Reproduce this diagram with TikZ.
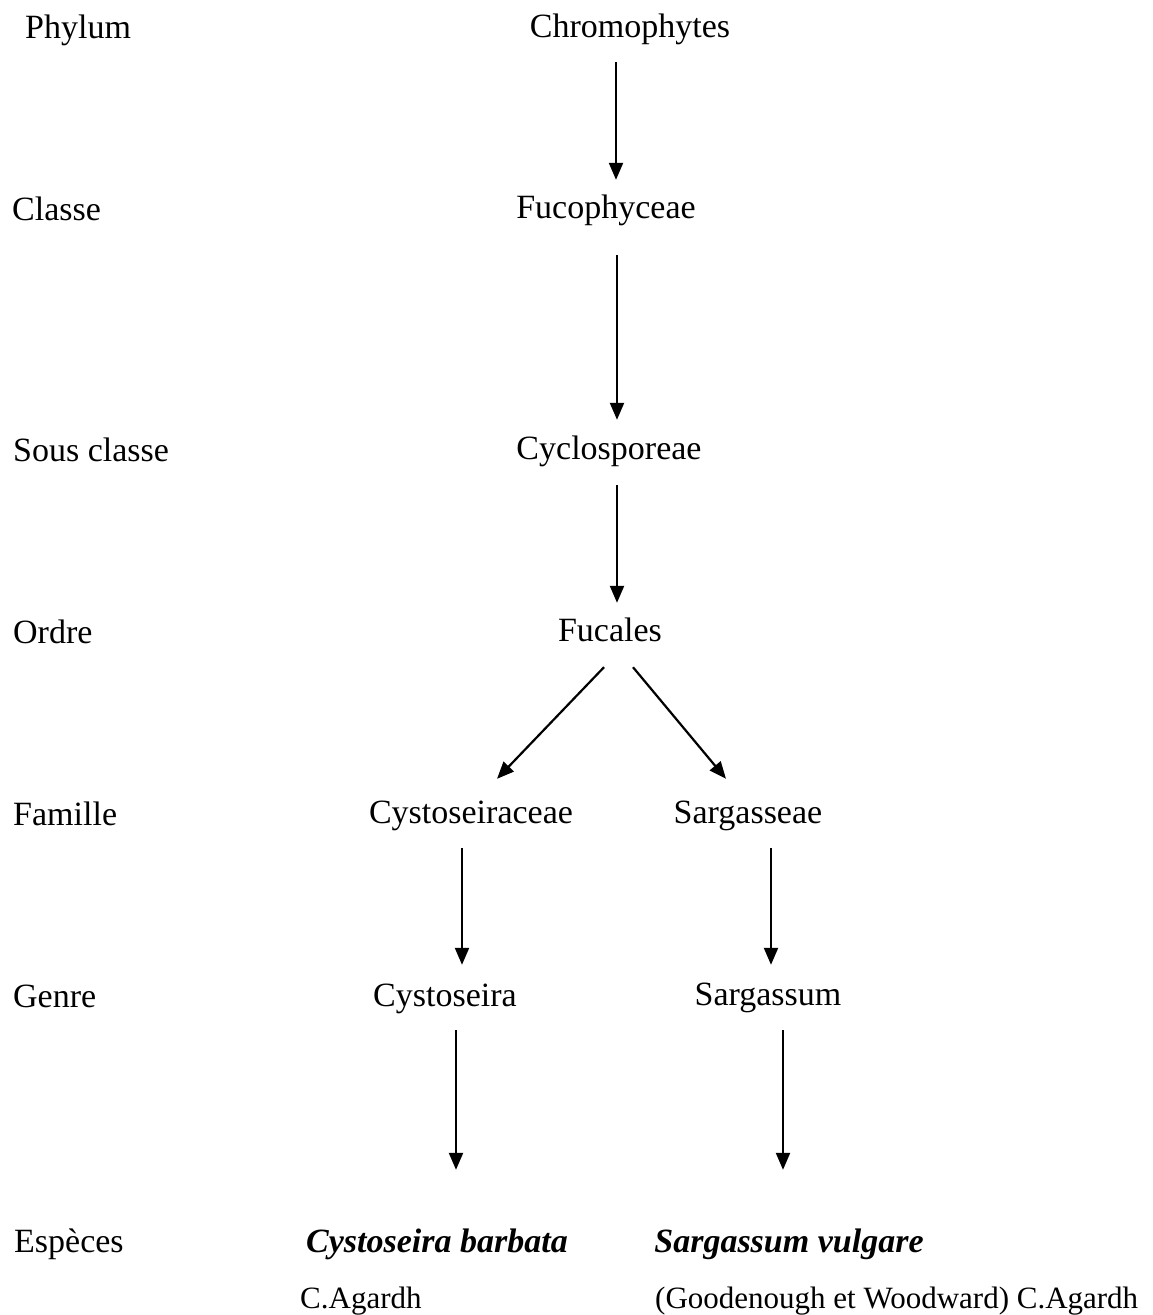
\documentclass[tikz,border=0pt]{standalone}
\usepackage{fontspec}
\setmainfont{Liberation Serif}
\usetikzlibrary{calc,arrows.meta}
\begin{document}
\begin{tikzpicture}[x=1pt,y=-1pt,
  lbl/.style={inner sep=0pt,text height=24pt,text depth=8pt,anchor=base west,font=\fontsize{34}{40}\selectfont},
  author/.style={lbl,font=\fontsize{31}{37}\selectfont},
  taxon/.style={inner sep=0pt,text height=24pt,text depth=8pt,anchor=base,font=\fontsize{34}{40}\selectfont},
  species/.style={taxon,font=\fontsize{34}{40}\selectfont\bfseries\itshape},
  arr/.style={line width=2.2pt,-{Triangle[width=14pt,length=17pt]}}]
\useasboundingbox[fill=white] (0,0) rectangle (1153,1315);
% rank labels
\node[lbl] (phylum) at (25,38) {Phylum};
\node[lbl] (classe) at (12,220) {Classe};
\node[lbl] (sousclasse) at (13,461) {Sous classe};
\node[lbl] (ordre) at (13,643) {Ordre};
\node[lbl] (famille) at (13,825) {Famille};
\node[lbl] (genre) at (13,1007) {Genre};
\node[lbl] (especes) at (14,1252) {Espèces};
% taxa
\node[taxon] (chromo) at (630,37) {Chromophytes};
\node[taxon] (fuco) at (606,218) {Fucophyceae};
\node[taxon] (cyclo) at (609,459) {Cyclosporeae};
\node[taxon] (fucales) at (610,641) {Fucales};
\node[taxon] (cystac) at (471,823) {Cystoseiraceae};
\node[taxon] (sargae) at (748,823) {Sargasseae};
\node[taxon] (cysto) at (445,1006) {Cystoseira};
\node[taxon] (sarg) at (768,1005) {Sargassum};
\node[species] (barbata) at (437,1252) {Cystoseira barbata};
\node[species] (vulgare) at (789,1252) {Sargassum vulgare};
\node[author] (auth1) at (300,1308) {C.Agardh};
\node[author] (auth2) at (655,1308) {(Goodenough et Woodward) C.Agardh};
% arrows
\draw[arr] ($(chromo.south)+(-14,17)$) -- ($(fuco.north)+(10,-14)$);
\draw[arr] ($(fuco.south)+(11,29)$) -- ($(cyclo.north)+(8,-15)$);
\draw[arr] ($(cyclo.south)+(8,18)$) -- ($(fucales.north)+(7,-14)$);
\draw[arr] ($(fucales.south)+(-6,18)$) -- ($(cystac.north)+(26,-20)$);
\draw[arr] ($(fucales.south)+(23,18)$) -- ($(sargae.north)+(-22,-20)$);
\draw[arr] ($(cystac.south)+(-9,17)$) -- ($(cysto.north)+(17,-17)$);
\draw[arr] ($(sargae.south)+(23,17)$) -- ($(sarg.north)+(3,-16)$);
\draw[arr] ($(cysto.south)+(11,16)$) -- ($(barbata.north)+(19,-58)$);
\draw[arr] ($(sarg.south)+(15,17)$) -- ($(vulgare.north)+(-6,-58)$);
\end{tikzpicture}
\end{document}
